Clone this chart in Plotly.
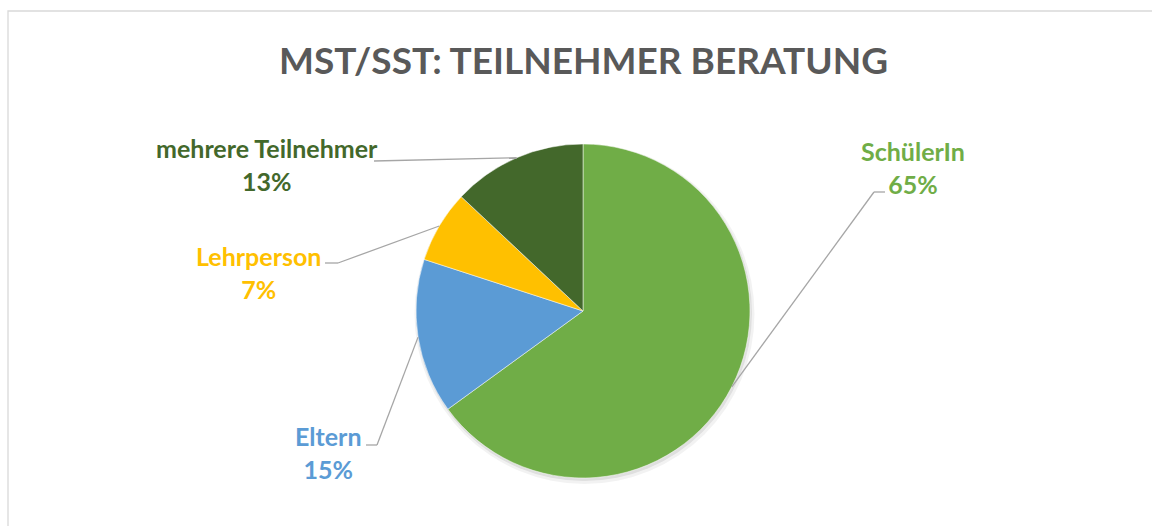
import math
import plotly.graph_objects as go

# ---- data ----
categories = ["SchülerIn", "Eltern", "Lehrperson", "mehrere Teilnehmer"]
values = [65, 15, 7, 13]
colors = ["#70AD47", "#5B9BD5", "#FFC000", "#43682B"]
title_text = "MST/SST: TEILNEHMER BERATUNG"

# ---- layout constants (pixels) ----
W, H = 1152, 526
CX, CY, R = 583, 311, 167
FONT = "Lato"

# label block centres and elbow points (pixels)
label_pos = [(913, 167), (328, 452), (258, 272), (267, 164)]
elbow_pts = [[(885, 192), (874, 192)],
             [(366, 445), (377, 445)],
             [(325, 263), (338, 263)],
             [(374, 161)]]

def px(x):
    return x / W

def py(y):
    return 1 - y / H

fig = go.Figure()
fig.add_trace(go.Pie(
    labels=categories, values=values, sort=False, direction="clockwise",
    rotation=0, marker=dict(colors=colors, line=dict(color="white", width=0.5)),
    textinfo="none", hoverinfo="label+percent", showlegend=False,
    domain=dict(x=[px(CX - R), px(CX + R)], y=[py(CY + R), py(CY - R)]),
))

shapes = []
# frame
shapes.append(dict(type="rect", xref="paper", yref="paper",
                   x0=px(8), x1=px(1170), y0=py(560), y1=py(11),
                   line=dict(color="#D9D9D9", width=1.3), layer="below"))
# soft shadow under pie
for off, rr, a in [(3, R + 3, 0.05), (2, R + 1, 0.08)]:
    shapes.append(dict(type="circle", xref="paper", yref="paper",
                       x0=px(CX - rr + off / 2), x1=px(CX + rr + off / 2),
                       y0=py(CY + rr + off), y1=py(CY - rr + off),
                       fillcolor=f"rgba(0,0,0,{a})", line=dict(width=0), layer="below"))

total = sum(values)
cum = 0
annotations = []
for cat, v, col, (lx, ly), elb in zip(categories, values, colors, label_pos, elbow_pts):
    mid = (cum + v / 2) / total * 2 * math.pi
    cum += v
    ex = CX + R * math.sin(mid)
    ey = CY - R * math.cos(mid)
    pts = elb + [(ex, ey)]
    for (x0, y0), (x1, y1) in zip(pts[:-1], pts[1:]):
        shapes.append(dict(type="line", xref="paper", yref="paper",
                           x0=px(x0), y0=py(y0), x1=px(x1), y1=py(y1),
                           line=dict(color="#A6A6A6", width=1.3)))
    pct = round(v / total * 100)
    annotations.append(dict(
        x=px(lx), y=py(ly), xref="paper", yref="paper", showarrow=False,
        text=f"<b>{cat}<br>{pct}%</b>", align="center",
        xanchor="center", yanchor="middle",
        font=dict(family=FONT, size=25, color=col)))

annotations.append(dict(
    x=px(583), y=py(59), xref="paper", yref="paper", showarrow=False,
    text=f"<b>{title_text}</b>", xanchor="center", yanchor="middle",
    font=dict(family=FONT, size=37, color="#595959")))

fig.update_layout(
    width=W, height=H, margin=dict(l=0, r=0, t=0, b=0),
    paper_bgcolor="white", plot_bgcolor="white",
    shapes=shapes, annotations=annotations,
)
fig.write_html("out.html", config={"displayModeBar": False})

# remove the default page margin so the figure fills the window exactly
with open("out.html", encoding="utf-8") as f:
    html = f.read()
html = html.replace("<head>", "<head><style>html,body{margin:0;padding:0;overflow:hidden;}</style>", 1)
with open("out.html", "w", encoding="utf-8") as f:
    f.write(html)
